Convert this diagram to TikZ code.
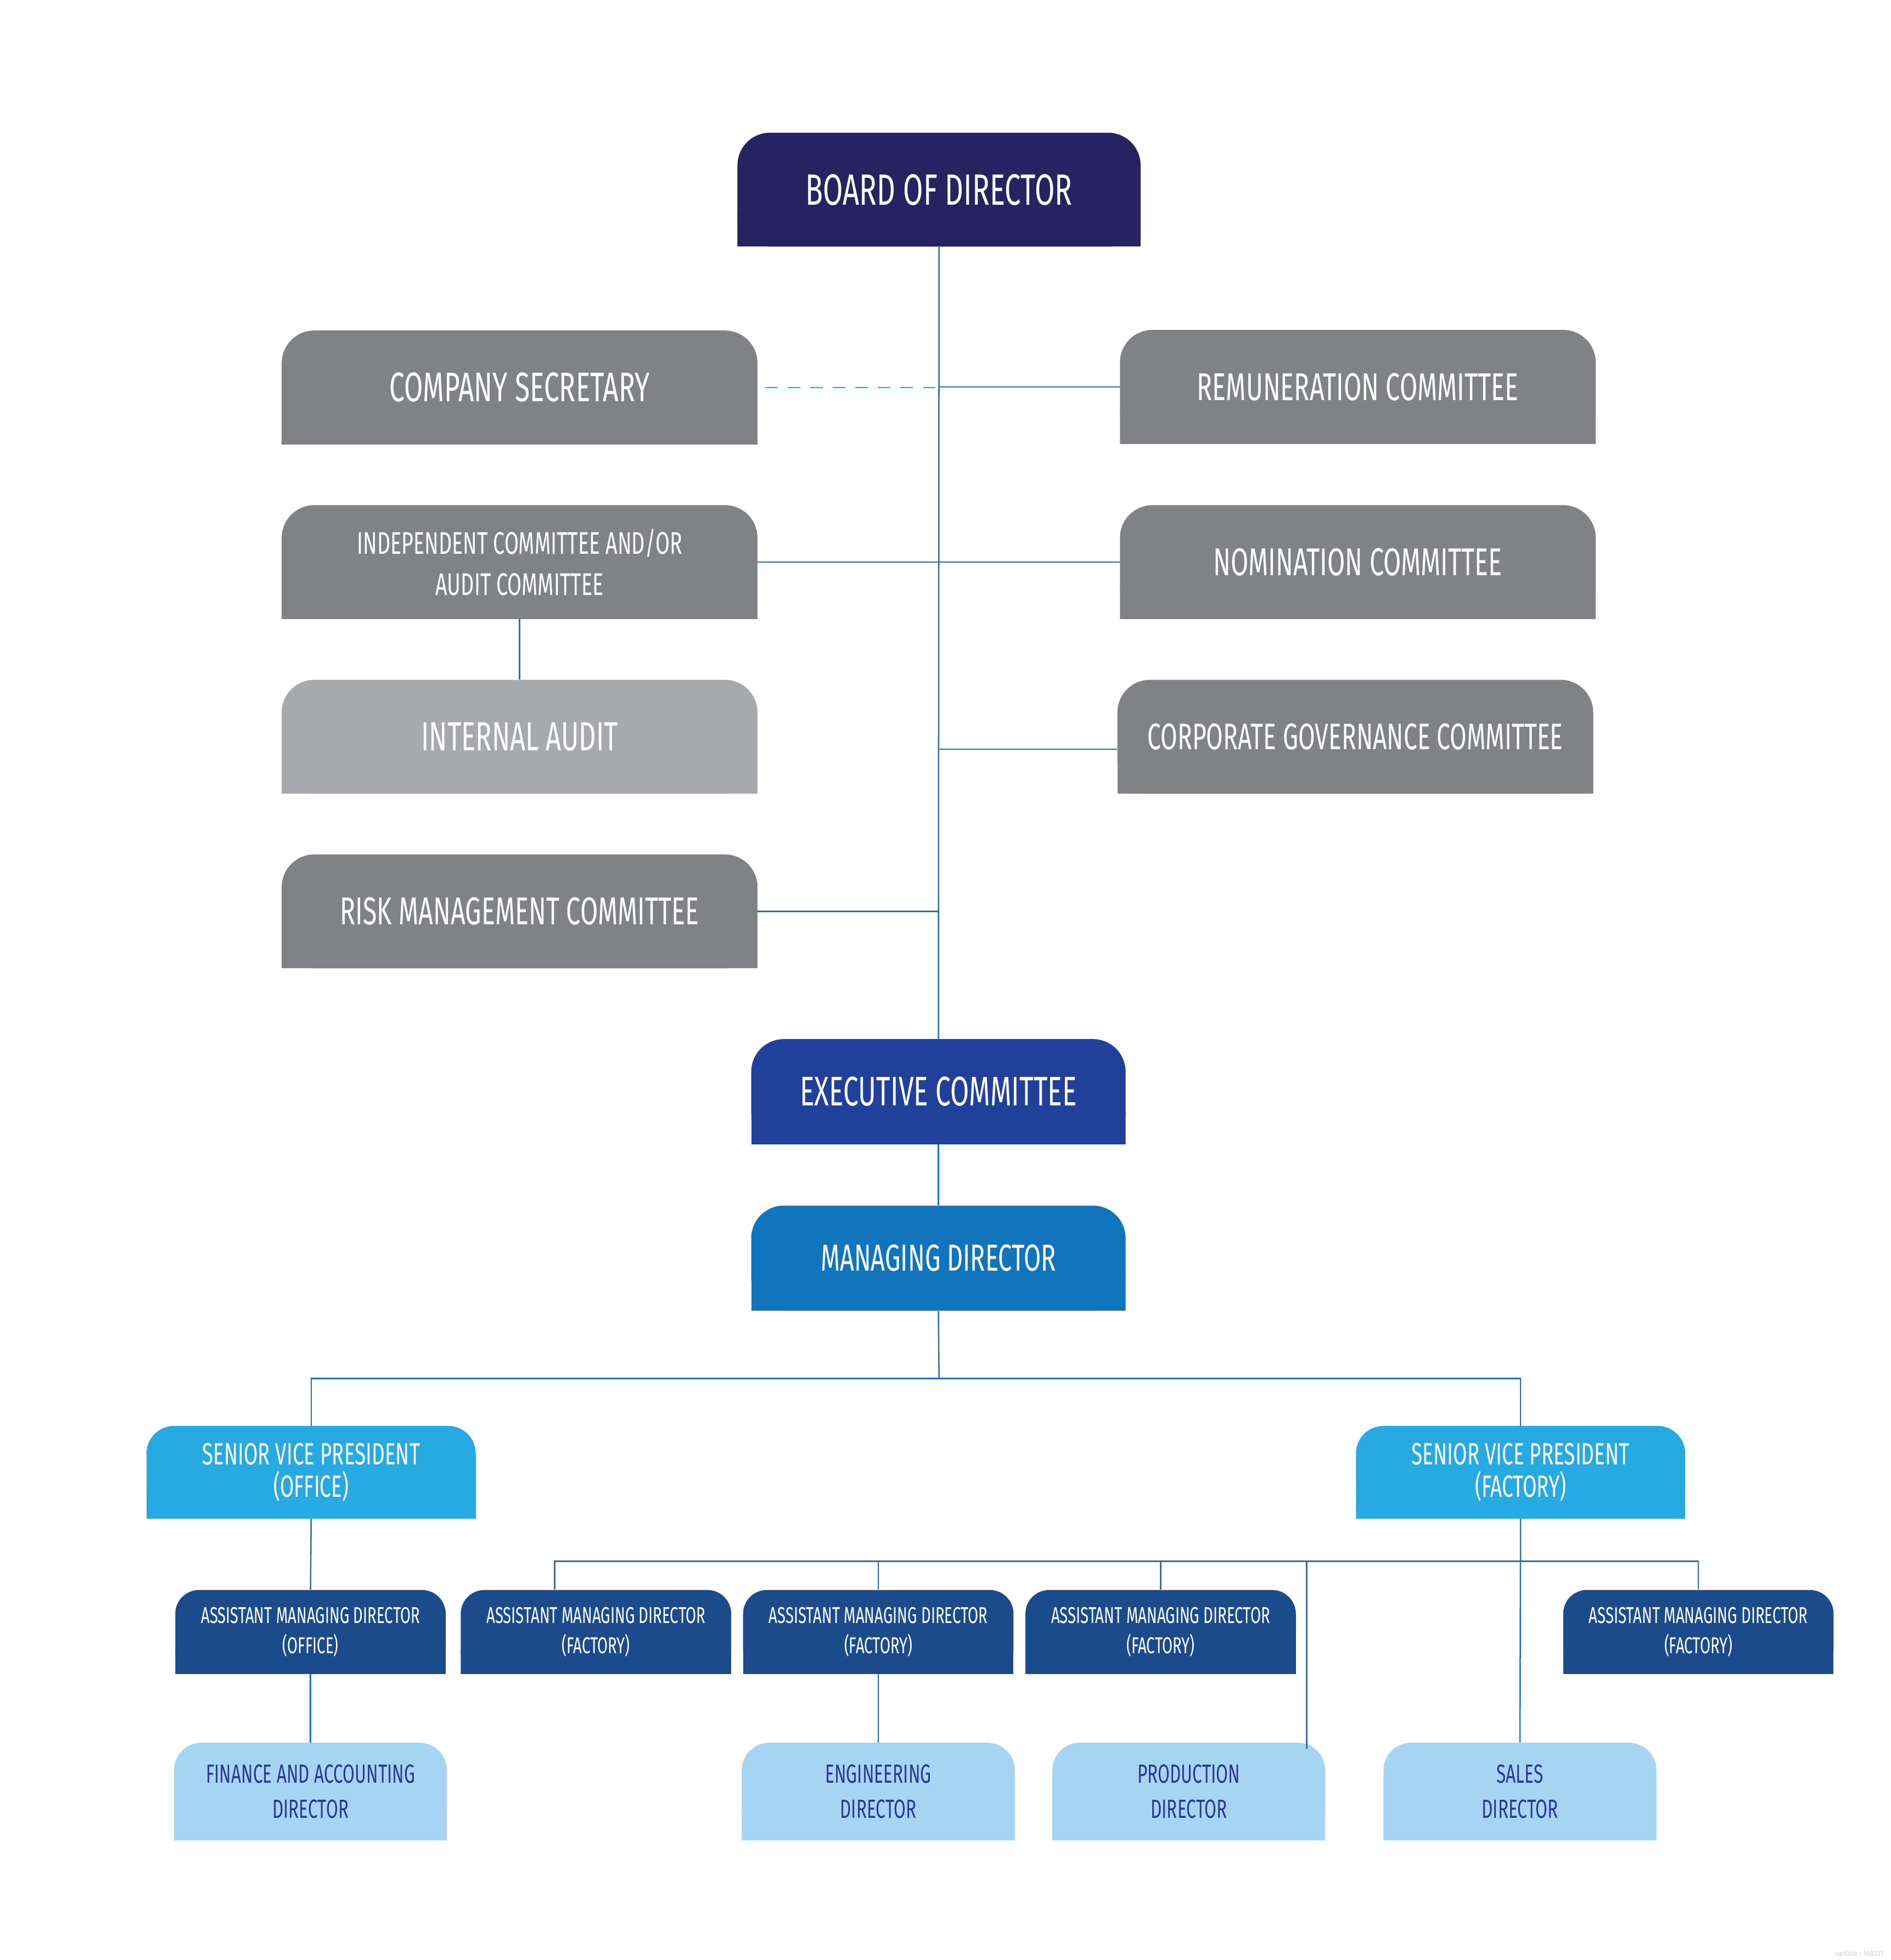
\documentclass[tikz,border=0pt]{standalone}
\usepackage{fontspec}
\setmainfont{Fira Sans}[FakeStretch=0.66]
\newfontfamily\stampfont{Fira Sans}

\definecolor{boardblue}{HTML}{272262}
\definecolor{cmtgray}{HTML}{818285}
\definecolor{auditgray}{HTML}{A7A9AC}
\definecolor{execblue}{HTML}{21409A}
\definecolor{mdblue}{HTML}{1075BC}
\definecolor{svpblue}{HTML}{27AAE1}
\definecolor{amdblue}{HTML}{1C4B8C}
\definecolor{dirblue}{HTML}{A6D5F3}
\definecolor{dirtext}{HTML}{2B3990}
\definecolor{linkblue}{HTML}{1C75BC}
\definecolor{dashblue}{HTML}{29ABE2}
\definecolor{stampgray}{HTML}{CCCCCC}

\tikzset{
  tab/.style 2 args={path picture={
    \fill[#1,rounded corners=#2] (path picture bounding box.south west) rectangle (path picture bounding box.north east);
    \fill[#1] (path picture bounding box.south west) rectangle ([yshift=#2]path picture bounding box.south east);}},
  big/.style={inner sep=0pt, minimum width=380pt, minimum height=91pt, align=center, text=white,
    tab={cmtgray}{26pt}, font=\fontsize{31}{34}\selectfont},
  mid/.style={inner sep=0pt, minimum width=299pt, minimum height=84pt, align=center, text=white,
    font=\fontsize{33}{36}\selectfont},
  svp/.style={inner sep=0pt, minimum width=263pt, minimum height=74pt, align=center, text=white,
    tab={svpblue}{22pt}, font=\fontsize{24.5}{26}\selectfont},
  amd/.style={inner sep=0pt, minimum width=216pt, minimum height=67pt, align=center, text=white,
    tab={amdblue}{19pt}, font=\fontsize{18.3}{24}\selectfont},
  dir/.style={inner sep=0pt, minimum width=218pt, minimum height=78pt, align=center, text=dirtext,
    tab={dirblue}{22pt}, font=\fontsize{21}{28}\selectfont},
  link/.style={draw=linkblue, line width=1.1pt},
  dashlink/.style={draw=dashblue, line width=1.1pt, dash pattern=on 10pt off 8pt, dash phase=-6pt}
}

\begin{document}
\begin{tikzpicture}[x=1pt,y=-1pt]
\useasboundingbox (0,0) rectangle (1510,1565.6);

% board and committees
\node[mid, minimum width=322pt, minimum height=91pt, tab={boardblue}{26pt}, font=\fontsize{35}{38}\selectfont] (board) at (750,151.5) {BOARD OF DIRECTOR};
\node[big, font=\fontsize{33}{36}\selectfont] (cs) at (415,309.5) {COMPANY SECRETARY};
\node[big] (rem) at (1084.5,309) {REMUNERATION COMMITTEE};
\node[big, font=\fontsize{25}{33}\selectfont] (ind) at (415,449) {INDEPENDENT COMMITTEE AND/OR\\AUDIT COMMITTEE};
\node[big] (nom) at (1084.5,449) {NOMINATION COMMITTEE};
\node[big, tab={auditgray}{26pt}, font=\fontsize{32.5}{36}\selectfont] (audit) at (415,588.5) {INTERNAL AUDIT};
\node[big, font=\fontsize{29.5}{33}\selectfont] (corp) at (1082.5,588.5) {CORPORATE GOVERNANCE COMMITTEE};
\node[big] (risk) at (415,728) {RISK MANAGEMENT COMMITTEE};

% management
\node[mid, tab={execblue}{26pt}] (exec) at (749.5,872) {EXECUTIVE COMMITTEE};
\node[mid, tab={mdblue}{26pt}, font=\fontsize{30}{33}\selectfont] (md) at (749.5,1005) {MANAGING DIRECTOR};
\node[svp] (svpo) at (248.5,1176) {SENIOR VICE PRESIDENT\\(OFFICE)};
\node[svp] (svpf) at (1214.5,1176) {SENIOR VICE PRESIDENT\\(FACTORY)};

\node[amd] (amdo) at (248,1303.5) {ASSISTANT MANAGING DIRECTOR\\(OFFICE)};
\node[amd] (amdfa) at (476,1303.5) {ASSISTANT MANAGING DIRECTOR\\(FACTORY)};
\node[amd] (amdfb) at (701.5,1303.5) {ASSISTANT MANAGING DIRECTOR\\(FACTORY)};
\node[amd] (amdfc) at (927,1303.5) {ASSISTANT MANAGING DIRECTOR\\(FACTORY)};
\node[amd] (amdfd) at (1356.5,1303.5) {ASSISTANT MANAGING DIRECTOR\\(FACTORY)};

\node[dir] (fin) at (248,1431) {FINANCE AND ACCOUNTING\\DIRECTOR};
\node[dir] (eng) at (701.5,1431) {ENGINEERING\\DIRECTOR};
\node[dir] (prod) at (949.5,1431) {PRODUCTION\\DIRECTOR};
\node[dir] (sales) at (1214,1431) {SALES\\DIRECTOR};

% lines
\draw[link] (board.south) -- (exec.north);
\draw[dashlink] (cs.east) -- (cs.east -| board.south);
\draw[link] (rem.west) -- (rem.west -| board.south);
\draw[link] (ind.east) -- (nom.west);
\draw[link] (ind.south) -- (audit.north);
\draw[link] ([yshift=-10pt]corp.west) -- ([yshift=-10pt]corp.west -| board.south);
\draw[link] (risk.east) -- (risk.east -| board.south);
\draw[link] (exec.south) -- (md.north);

\coordinate (split) at (750,1101);
\draw[link] (md.south) -- (split);
\draw[link] (split) -| (svpo.north);
\draw[link] (split) -| (svpf.north);
\draw[link] (svpo.south) -- (amdo.north);
\draw[link] (amdo.south) -- (fin.north);

\coordinate (fsplit) at (1214.5,1247);
\draw[link] (svpf.south) -- (sales.north);
\draw[link] (fsplit) -| ([xshift=-33pt]amdfa.north);
\draw[link] (fsplit) -| (amdfb.north);
\draw[link] (fsplit) -| (amdfc.north);
\draw[link] (fsplit) -| (amdfd.north);
\draw[link] (fsplit) -| ([xshift=-15pt,yshift=-5pt]prod.north east);
\draw[link] (amdfb.south) -- (eng.north);

\node[text=stampgray, font=\stampfont\fontsize{5.5}{6}\selectfont] (stamp) at (1485,1561) {update : 160221};
\end{tikzpicture}
\end{document}
